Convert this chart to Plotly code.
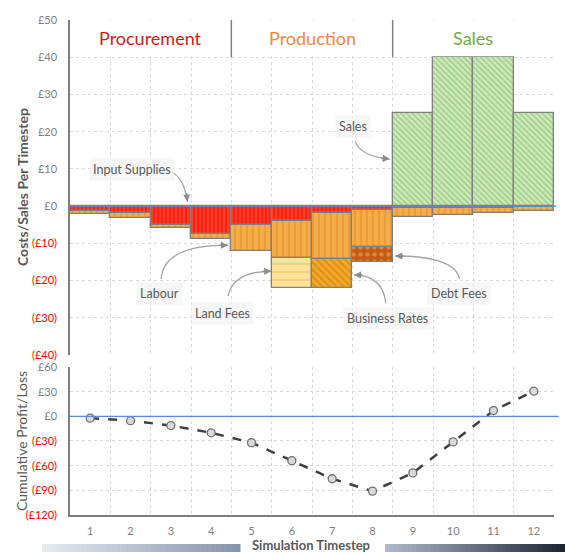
import numpy as np
import plotly.graph_objects as go

# ---- data -------------------------------------------------------------
timesteps = list(range(1, 13))
input_supplies = [-1.2, -1.9, -5.0, -7.5, -5.0, -3.9, -1.9, -1.0, -0.4, -0.4, -0.4, -0.3]
labour = [-1.0, -1.2, -0.9, -1.3, -7.0, -10.0, -12.2, -10.1, -2.4, -1.9, -1.5, -1.1]
land_fees = [None, None, None, None, None, -8.0, None, None, None, None, None, None]
business_rates = [None, None, None, None, None, None, -7.9, None, None, None, None, None]
debt_fees = [None, None, None, None, None, None, None, -4.0, None, None, None, None]
sales = [None, None, None, None, None, None, None, None, 25.0, 40.0, 40.0, 25.0]

phases = ["Procurement", "Production", "Sales"]
phase_centres = [2.5, 6.5, 10.5]
phase_colours = ["#D7191C", "#F0883A", "#70AD47"]

top_ticks = [50, 40, 30, 20, 10, 0, -10, -20, -30, -40]
bottom_ticks = [60, 30, 0, -30, -60, -90, -120]

# cumulative profit/loss from all cost and sales components
components = [input_supplies, labour, land_fees, business_rates, debt_fees, sales]
net = np.nansum(np.array(components, dtype=float), axis=0)
cumulative = np.cumsum(net)

FONT = "Lato"
GREY_TXT = "#595959"
TICK_GREY = "#7F7F7F"
GRID = "#D9D9D9"
OUTLINE = "#7F7F7F"
DASH = "3px,3px"


def money_label(v):
    if v < 0:
        return f"<span style='color:#FF0000'>(£{abs(v)})</span>"
    return f"£{v}"


fig = go.Figure()

bar_styles = [
    ("Input Supplies", input_supplies, "#FF1E10", "#FF7A55", "|", 4, 0.35),
    ("Labour", labour, "#F5AE4C", "#E8882A", "|", 6, 0.4),
    ("Land Fees", land_fees, "#FFE39A", "#F2BE6A", "-", 8, 0.25),
    ("Business Rates", business_rates, "#F3A92E", "#C97800", "\\", 5, 0.45),
    ("Debt Fees", debt_fees, "#C55A11", "#F6B27E", ".", 7, 0.3),
    ("Sales", sales, "#D6EDC8", "#76B94F", "\\", 4, 0.55),
]
for name, vals, bg, fg, shape, size, solid in bar_styles:
    fig.add_trace(go.Bar(
        x=timesteps, y=vals, name=name, xaxis="x", yaxis="y",
        marker=dict(
            color=bg,
            line=dict(color=OUTLINE, width=1.3),
            pattern=dict(shape=shape, bgcolor=bg, fgcolor=fg, size=size,
                         solidity=solid, fillmode="overlay"),
        ),
        showlegend=False,
    ))

fig.add_trace(go.Scatter(
    x=timesteps, y=cumulative, xaxis="x2", yaxis="y2", mode="lines+markers",
    line=dict(color="#404040", width=2.5, dash="dash"),
    marker=dict(symbol="circle", size=8, color="#D9D9D9",
                line=dict(color="#6E6E6E", width=1.3)),
    showlegend=False,
))

boundaries = [i + 0.5 for i in range(0, 13)]

fig.update_layout(
    width=565, height=554,
    margin=dict(l=70, r=11, t=20, b=39),
    paper_bgcolor="white", plot_bgcolor="white",
    barmode="relative", bargap=0,
    font=dict(family=FONT, color=GREY_TXT),
    xaxis=dict(
        domain=[0, 1], anchor="y", range=[0.5, 12.5],
        tickmode="array", tickvals=boundaries, showticklabels=False,
        showgrid=True, gridcolor=GRID, griddash=DASH, gridwidth=1,
        zeroline=False, showline=False, ticks="",
    ),
    yaxis=dict(
        domain=[0.3232, 1.0], anchor="x", range=[-40, 50],
        tickmode="array", tickvals=top_ticks,
        ticktext=[money_label(v) for v in top_ticks],
        tickfont=dict(family=FONT, size=11, color=TICK_GREY),
        showgrid=True, gridcolor=GRID, griddash=DASH, gridwidth=1,
        zeroline=False, showline=True, linecolor=OUTLINE, linewidth=1.5,
        ticks="", ticklabelstandoff=9,
    ),
    xaxis2=dict(
        domain=[0, 1], anchor="y2", range=[0.5, 12.5],
        tickmode="array", tickvals=timesteps,
        tickfont=dict(family=FONT, size=11, color=TICK_GREY),
        showgrid=False, zeroline=False,
        showline=True, linecolor=OUTLINE, linewidth=1.5,
        ticks="outside", ticklen=5, tickcolor="rgba(0,0,0,0)",
        minor=dict(tickmode="array", tickvals=boundaries[1:], showgrid=True,
                   gridcolor=GRID, griddash=DASH, gridwidth=1, ticks=""),
    ),
    yaxis2=dict(
        domain=[0, 0.299], anchor="x2", range=[-120, 60],
        tickmode="array", tickvals=bottom_ticks,
        ticktext=[money_label(v) for v in bottom_ticks],
        tickfont=dict(family=FONT, size=11, color=TICK_GREY),
        showgrid=True, gridcolor=GRID, griddash=DASH, gridwidth=1,
        zeroline=False, showline=True, linecolor=OUTLINE, linewidth=1.5,
        ticks="", ticklabelstandoff=9,
    ),
)

shapes = []
# phase header band
shapes.append(dict(type="rect", xref="x", yref="y", x0=0.55, x1=12.45, y0=40.25, y1=49.8,
                   fillcolor="white", line=dict(width=0), layer="above"))
for xb in (4.5, 8.5):
    shapes.append(dict(type="line", xref="x", yref="y", x0=xb, x1=xb, y0=40, y1=50,
                       line=dict(color="#808080", width=1.5), layer="above"))
# zero reference lines
shapes.append(dict(type="line", xref="paper", yref="y", x0=0, x1=1.005, y0=0, y1=0,
                   line=dict(color="#5B8BD0", width=1.2), layer="above"))
shapes.append(dict(type="line", xref="paper", yref="y2", x0=0, x1=1.01, y0=0, y1=0,
                   line=dict(color="#5B8BD0", width=1.2), layer="above"))

# curved call-out arrows: (start, control, end, arrowhead offset in px)
callouts = [
    ((2.82, 9.68), (3.31, 9.41), (3.41, 1.2), (-1, -10)),
    ((7.57, 17.47), (7.69, 13.44), (8.43, 12.63), (-10, -1)),
    ((2.76, -19.6), (2.81, -10.5), (4.42, -10.5), (-10, 0)),
    ((4.42, -24.2), (4.54, -17.5), (5.49, -17.5), (-10, 0)),
    ((8.33, -26.1), (8.26, -18.6), (7.54, -18.5), (10, 0)),
    ((10.16, -19.6), (10.04, -13.4), (8.56, -13.4), (10, 0)),
]
annotations = []
for (sx, sy), (cx, cy), (ex, ey), (ax, ay) in callouts:
    shapes.append(dict(type="path", xref="x", yref="y",
                       path=f"M {sx},{sy} Q {cx},{cy} {ex},{ey}",
                       line=dict(color="#A6A6A6", width=1.3), layer="above"))
    annotations.append(dict(xref="x", yref="y", x=ex, y=ey, ax=ax, ay=ay, text="",
                            showarrow=True, arrowhead=2, arrowsize=1.1,
                            arrowwidth=1.3, arrowcolor="#8C8C8C", standoff=0))

# call-out labels
labels = [
    ("Input Supplies", 2.04, 9.95),
    ("Sales", 7.52, 21.5),
    ("Labour", 2.73, -23.4),
    ("Land Fees", 4.27, -28.8),
    ("Business Rates", 8.38, -30.1),
    ("Debt Fees", 10.15, -23.4),
]
for text, lx, ly in labels:
    annotations.append(dict(xref="x", yref="y", x=lx, y=ly, text=text, showarrow=False,
                            xanchor="center", yanchor="middle",
                            font=dict(family=FONT, size=12.5, color=GREY_TXT),
                            bgcolor="rgba(242,242,242,0.7)", borderpad=3))

# phase titles
for name, xc, col in zip(phases, phase_centres, phase_colours):
    annotations.append(dict(xref="x", yref="y", x=xc, y=45.2, text=name, showarrow=False,
                            xanchor="center", yanchor="middle",
                            font=dict(family=FONT, size=18, color=col)))

# axis titles
annotations.append(dict(xref="paper", yref="paper", x=-0.0992, y=0.6626,
                        xanchor="center", yanchor="middle",
                        text="<b>Costs/Sales Per Timestep</b>", textangle=-90,
                        showarrow=False, font=dict(family=FONT, size=14, color=GREY_TXT)))
annotations.append(dict(xref="paper", yref="paper", x=-0.0992, y=0.1495,
                        xanchor="center", yanchor="middle",
                        text="Cumulative Profit/Loss", textangle=-90,
                        showarrow=False, font=dict(family=FONT, size=14, color=GREY_TXT)))
annotations.append(dict(xref="paper", yref="paper", x=0.498, y=(515 - 545) / 495.0,
                        xanchor="center", yanchor="middle",
                        text="<b>Simulation Timestep</b>", showarrow=False,
                        font=dict(family=FONT, size=13, color=GREY_TXT)))


# gradient bars flanking the x-axis title
def px_to_paper_x(px):
    return (px - 70) / 484.0


def lerp_colour(c0, c1, t):
    a = [int(c0[i:i + 2], 16) for i in (1, 3, 5)]
    b = [int(c1[i:i + 2], 16) for i in (1, 3, 5)]
    return "rgb({},{},{})".format(*[round(a[k] + (b[k] - a[k]) * t) for k in range(3)])


def gradient(px0, px1, c0, c1, steps=40):
    w = (px1 - px0) / steps
    for i in range(steps):
        shapes.append(dict(type="rect", xref="paper", yref="paper",
                           x0=px_to_paper_x(px0 + i * w), x1=px_to_paper_x(px0 + (i + 1) * w + 0.5),
                           y0=(515 - 552) / 495.0, y1=(515 - 544) / 495.0,
                           fillcolor=lerp_colour(c0, c1, i / (steps - 1)),
                           line=dict(width=0), layer="above"))


gradient(42, 240, "#E6EAF0", "#8494AB")
gradient(385, 565, "#AEBACB", "#1E2634")

fig.update_layout(shapes=shapes, annotations=annotations)

fig.write_html("out.html")
